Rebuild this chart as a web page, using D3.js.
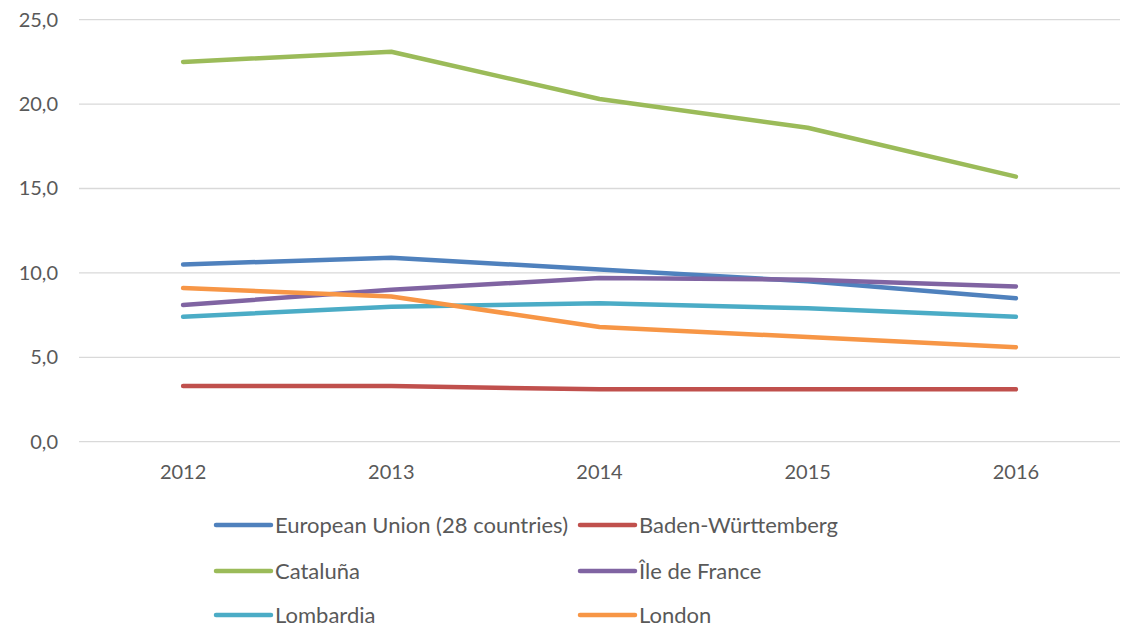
<!DOCTYPE html>
<html>
<head>
<meta charset="utf-8">
<script src="https://cdn.jsdelivr.net/npm/d3@7"></script>
<style>
body { margin: 0; background: #fff; }
text { font-family: Lato, "Open Sans", sans-serif; fill: #595959; }
</style>
</head>
<body>
<script>
var years = ["2012", "2013", "2014", "2015", "2016"];
var seriesNames = ["European Union (28 countries)", "Baden-Württemberg", "Cataluña", "Île de France", "Lombardia", "London"];
var euValues = [10.5, 10.9, 10.2, 9.5, 8.5];
var badenValues = [3.3, 3.3, 3.1, 3.1, 3.1];
var catalunaValues = [22.5, 23.1, 20.3, 18.6, 15.7];
var ileValues = [8.1, 9.0, 9.7, 9.6, 9.2];
var lombardiaValues = [7.4, 8.0, 8.2, 7.9, 7.4];
var londonValues = [9.1, 8.6, 6.8, 6.2, 5.6];
var yTicks = [0, 5, 10, 15, 20, 25];

var colors = ["#4F81BD", "#C0504D", "#9BBB59", "#8064A2", "#4BACC6", "#F79646"];
var allValues = [euValues, badenValues, catalunaValues, ileValues, lombardiaValues, londonValues];

var width = 1124, height = 634;
// plot area edges (avoid "top", it is window.top)
var plotLeft = 79, plotRight = 1120, plotTop = 19.7, plotBottom = 441.7;

var svg = d3.select("body").append("svg")
    .attr("width", width)
    .attr("height", height);

var xScale = d3.scaleBand()
    .domain(years)
    .range([plotLeft, plotRight]);

var yScale = d3.scaleLinear()
    .domain([0, 25])
    .range([plotBottom, plotTop]);

// gridlines
svg.append("g")
    .selectAll("line")
    .data(yTicks)
    .enter().append("line")
    .attr("x1", plotLeft)
    .attr("x2", plotRight)
    .attr("y1", function(d) { return yScale(d); })
    .attr("y2", function(d) { return yScale(d); })
    .attr("stroke", "#d9d9d9")
    .attr("stroke-width", 1.3);

// y axis labels
var yAxis = svg.append("g")
    .attr("transform", "translate(" + (plotLeft - 21) + ",0)")
    .call(d3.axisLeft(yScale).tickValues(yTicks).tickSize(0)
        .tickFormat(function(d) { return d3.format(".1f")(d).replace(".", ","); }));
yAxis.select(".domain").remove();
yAxis.selectAll("text")
    .attr("font-size", 20)
    .attr("x", 0)
    .style("fill", "#595959");

// x axis labels
var xAxis = svg.append("g")
    .attr("transform", "translate(0," + (plotBottom + 20) + ")")
    .call(d3.axisBottom(xScale).tickSize(0));
xAxis.select(".domain").remove();
xAxis.selectAll("text")
    .attr("font-size", 20)
    .style("fill", "#595959");

var line = d3.line()
    .x(function(d, i) { return xScale(years[i]) + xScale.bandwidth() / 2; })
    .y(function(d) { return yScale(d); });

svg.append("g")
    .selectAll("path")
    .data(allValues)
    .enter().append("path")
    .attr("d", line)
    .attr("fill", "none")
    .attr("stroke", function(d, i) { return colors[i]; })
    .attr("stroke-width", 4.5)
    .attr("stroke-linecap", "round")
    .attr("stroke-linejoin", "round");

// legend
var legendX = [214, 578];
var legendY = [525, 571, 615];
var legend = svg.append("g")
    .selectAll("g")
    .data(seriesNames)
    .enter().append("g")
    .attr("transform", function(d, i) { return "translate(" + legendX[i % 2] + "," + legendY[Math.floor(i / 2)] + ")"; });

legend.append("line")
    .attr("x1", 2)
    .attr("x2", 57)
    .attr("stroke", function(d, i) { return colors[i]; })
    .attr("stroke-width", 4.5)
    .attr("stroke-linecap", "round");

legend.append("text")
    .attr("x", 61)
    .attr("dy", "0.35em")
    .attr("font-size", 22)
    .text(function(d) { return d; });
</script>
</body>
</html>
